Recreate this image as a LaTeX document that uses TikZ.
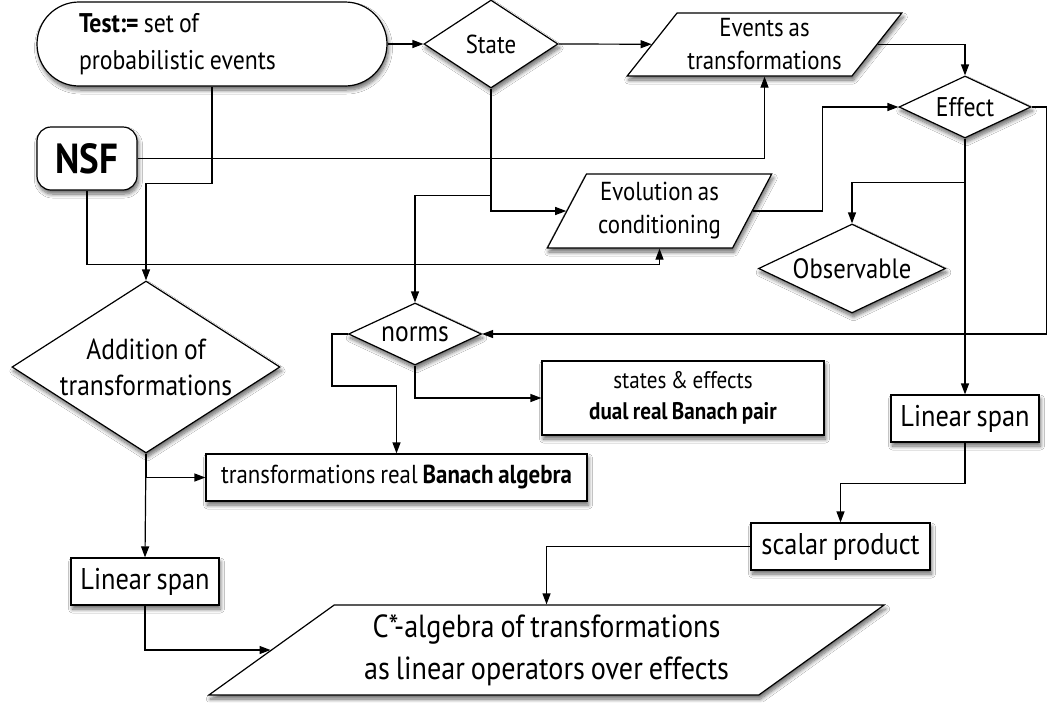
\documentclass[tikz,border=0pt]{standalone}
\usepackage{fontspec}
\setmainfont{PT Sans}[FakeStretch=0.88,WordSpace=0.8]
\usetikzlibrary{shapes,arrows.meta,shadows.blur}
\tikzset{
  soft shadow/.style={
    blur shadow={shadow xshift=1.5pt,shadow yshift=-4pt,shadow blur radius=4pt,shadow blur steps=8,shadow opacity=60},
  },
}

\begin{document}
\begin{tikzpicture}[
        x=1pt, y=-1pt
        , base/.style={
             draw
            , fill=white
            , line width=1.2pt
            , inner sep=0pt
            , align=center
            , soft shadow
            , font=\fontsize{26}{33}\selectfont
        }
        , decision/.style={base, diamond}
        , io/.style={base, trapezium, trapezium stretches=true}
        , box/.style={base, rectangle}
        , link/.style={-{Triangle[length=11pt,width=8pt]}, line width=1.2pt}
        ]
        \fill[white] (0,0) rectangle (1048,702);
        \useasboundingbox (0,0) rectangle (1048,702);

        \node[base, rounded rectangle, minimum width=350pt, minimum height=84pt, text width=266pt, align=flush left, font=\fontsize{27}{37}\selectfont] (test) at (212,44) {\textbf{Test:=} set of\\probabilistic events};
        \node[box, rounded corners=14pt, minimum width=100pt, minimum height=63pt, font=\fontsize{42}{42}\selectfont\bfseries] (nsf) at (87,158.5) {NSF};
        \node[decision, aspect=1.52, minimum width=134pt, minimum height=88pt] (state) at (491,44) {State};
        \node[io, trapezium left angle=49.5, trapezium right angle=130.5, minimum width=275pt, minimum height=63pt] (events) at (764.5,44.5) {Events as\\transformations};
        \node[decision, aspect=2.13, minimum width=132pt, minimum height=62pt, font=\fontsize{27}{33}\selectfont] (effect) at (965,107) {Effect};
        \node[io, trapezium left angle=60, trapezium right angle=120, minimum width=225pt, minimum height=74pt] (evol) at (659.5,211) {Evolution as\\conditioning};
        \node[decision, aspect=2.1, minimum width=187pt, minimum height=89pt, font=\fontsize{28}{33}\selectfont] (obs) at (852,268.5) {Observable};
        \node[decision, aspect=1.56, minimum width=268pt, minimum height=172pt, font=\fontsize{29}{36}\selectfont] (add) at (146,367) {Addition of\\transformations};
        \node[decision, aspect=2.15, minimum width=133pt, minimum height=62pt, font=\fontsize{29}{33}\selectfont] (norms) at (415,334) {norms};
        \node[box, minimum width=282pt, minimum height=74pt, font=\fontsize{24}{31}\selectfont] (dual) at (683,398) {states \& effects\\\textbf{dual real Banach pair}};
        \node[box, minimum width=381pt, minimum height=47pt, font=\fontsize{26}{28}\selectfont] (banach) at (396.5,477.5) {transformations real \textbf{Banach algebra}};
        \node[box, minimum width=148pt, minimum height=47pt, font=\fontsize{30}{33}\selectfont] (spanR) at (965,418.5) {Linear span};
        \node[box, minimum width=179pt, minimum height=47pt, font=\fontsize{30}{33}\selectfont] (scalar) at (840.5,546.5) {scalar product};
        \node[box, minimum width=148pt, minimum height=47pt, font=\fontsize{30}{33}\selectfont] (spanL) at (145,581.5) {Linear span};
        \node[io, trapezium left angle=33.5, trapezium right angle=146.5, minimum width=681pt, minimum height=90pt, font=\fontsize{32}{42}\selectfont] (cstar) at (546.5,650) {C*-algebra of transformations\\as linear operators over effects};

        \draw[link] (test.east) -- (state.west);
        \draw[link] (state.east) -- (events);
        \draw[link] (events.east) -| (effect.north);
        \draw[link] (test.south) -- ++(0,97) -| (add.north);
        \draw[link] (nsf.east) -| (events.south);
        \draw[link] (nsf.south) -- ++(0,74) -| (evol.south);
        \draw[link] (state.south) |- (evol);
        \draw[link] (state.south) -- ++(0,107) -| (norms.north);
        \draw[link] (evol.east) -- ++(70,0) |- (effect.west);
        \draw[link] (effect.south) -- ++(0,44) -| (obs.north);
        \draw[link] (effect.south) -- (spanR.north);
        \draw[link] (effect.east) -- ++(15,0) |- (norms.east);
        \draw[link] (norms.south) |- (dual.west);
        \draw[link] (norms.west) -- ++(-16,0) -- ++(0,52) -| (banach.north);
        \draw[link] (add.south) -- (spanL.north);
        \draw[link] (add.south) |- (banach.west);
        \draw[link] (spanL.south) |- (cstar);
        \draw[link] (spanR.south) -- ++(0,41) -| (scalar.north);
        \draw[link] (scalar.west) -| (cstar.north);

    \end{tikzpicture}
\end{document}
